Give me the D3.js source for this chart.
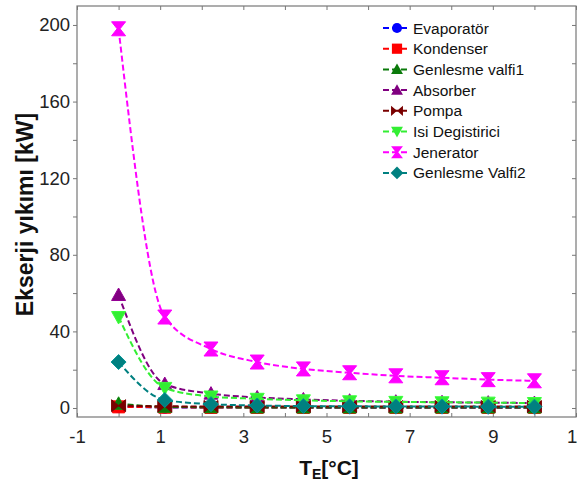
<!DOCTYPE html>
<html><head><meta charset="utf-8">
<script src="https://cdn.jsdelivr.net/npm/d3@7"></script>
<style>html,body{margin:0;padding:0;background:#fff;overflow:hidden}</style>
</head><body>
<script>
const xValues = [0, 1.111, 2.222, 3.333, 4.444, 5.556, 6.667, 7.778, 8.889, 10];
const seriesNames = ["Evaporatör","Kondenser","Genlesme valfi1","Absorber","Pompa","Isi Degistirici","Jenerator","Genlesme Valfi2"];
const evaporator = [0.8, 0.3, 0.2, 0.2, 0.2, 0.1, 0.1, 0.1, 0.1, 0.1];
const kondenser  = [0.6, 0.4, 0.3, 0.3, 0.3, 0.3, 0.3, 0.3, 0.3, 0.3];
const valfi1     = [2.2, 0.6, 0.4, 0.3, 0.3, 0.3, 0.3, 0.3, 0.3, 0.3];
const absorber   = [59, 12.5, 7.5, 5.5, 4.5, 3.8, 3.3, 3.0, 2.8, 2.6];
const pompa      = [1.2, 0.9, 0.8, 0.8, 0.8, 0.8, 0.8, 0.8, 0.8, 0.8];
const isiDeg     = [47.5, 10.5, 6, 4.8, 4.0, 3.5, 3.2, 3.0, 2.8, 2.6];
const jenerator  = [198, 47.5, 30.8, 24, 20.4, 18.4, 16.8, 15.8, 14.8, 14.2];
const valfi2     = [24, 4.2, 2.0, 1.3, 1.0, 0.9, 0.8, 0.8, 0.7, 0.7];
const xTickLabels = [-1, 1, 3, 5, 7, 9, 11];
const yTickLabels = [0, 40, 80, 120, 160, 200];

const seriesValues = [evaporator, kondenser, valfi1, absorber, pompa, isiDeg, jenerator, valfi2];
const colors = ["#0000ff","#ff0000","#0a7a0a","#800080","#7a0000","#33ee33","#ff00ff","#008080"];
const shapes = ["circle","square","tri","tri","bowtie","tridown","hourglass","diamond"];

const W = 577, H = 487;
const svg = d3.select("body").append("svg").attr("width", W).attr("height", H)
  .style("font-family", "'Liberation Sans', Arial, sans-serif");

const x = d3.scaleLinear().domain([-1, 11]).range([77, 576]);
const y = d3.scaleLinear().domain([-4.7, 209.9]).range([417, 6]);

// frame
svg.append("rect").attr("x", 77).attr("y", 6).attr("width", 499).attr("height", 411)
  .attr("fill", "none").attr("stroke", "#777").attr("stroke-width", 1.2);

// axes
const xAxis = d3.axisBottom(x).tickValues(d3.range(-1, 12, 1)).tickSizeInner(-4).tickSizeOuter(0)
  .tickFormat(d => xTickLabels.includes(d) ? d : "");
const gx = svg.append("g").attr("transform", "translate(0,417)").call(xAxis);
gx.select(".domain").remove();
gx.selectAll(".tick line").attr("stroke", "#777");
gx.selectAll("text").attr("font-size", 18.5).attr("fill", "#222").attr("dy", "1.25em");

const xTop = d3.axisTop(x).tickValues(d3.range(-1, 12, 1)).tickSizeInner(-4).tickSizeOuter(0).tickFormat("");
const gxt = svg.append("g").attr("transform", "translate(0,6)").call(xTop);
gxt.select(".domain").remove();
gxt.selectAll(".tick line").attr("stroke", "#777");

const yAxis = d3.axisLeft(y).tickValues(d3.range(0, 201, 20)).tickSize(4).tickPadding(3)
  .tickFormat(d => yTickLabels.includes(d) ? d : "");
const gy = svg.append("g").attr("transform", "translate(77,0)").call(yAxis);
gy.select(".domain").remove();
gy.selectAll(".tick line").attr("stroke", "#777");
gy.selectAll("text").attr("font-size", 18.5).attr("fill", "#222");

const yRight = d3.axisRight(y).tickValues(d3.range(0, 201, 20)).tickSize(-4).tickFormat("");
const gyr = svg.append("g").attr("transform", "translate(576,0)").call(yRight);
gyr.select(".domain").remove();
gyr.selectAll(".tick line").attr("stroke", "#777");

// titles
svg.append("text").attr("transform", "translate(33,214.5) rotate(-90)").attr("text-anchor", "middle")
  .attr("font-size", 23).attr("font-weight", "bold").attr("fill", "#111").text("Ekserji yıkımı [kW]");
const xt = svg.append("text").attr("x", 329).attr("y", 475).attr("text-anchor", "middle")
  .attr("font-size", 21).attr("font-weight", "bold").attr("fill", "#111");
xt.append("tspan").text("T");
xt.append("tspan").attr("font-size", 14).attr("dy", 4).text("E");
xt.append("tspan").attr("dy", -4).text("[°C]");

function markerPath(shape) {
  switch (shape) {
    case "circle": return d3.symbol(d3.symbolCircle, 110)();
    case "square": return "M-6,-6H6V6H-6Z";
    case "tri": return "M0,-7L7,5.5L-7,5.5Z";
    case "tridown": return "M0,7L7,-5.5L-7,-5.5Z";
    case "bowtie": return "M-7,-6L0,0L-7,6Z M7,-6L0,0L7,6Z";
    case "hourglass": return "M-7,-7L7,-7L1.5,0L7,7L-7,7L-1.5,0Z";
    case "diamond": return "M0,-7.5L7.5,0L0,7.5L-7.5,0Z";
  }
}
function markerStroke(shape, c) {
  return shape === "bowtie" ? c : d3.color(c).brighter(0.4);
}

const line = d3.line().x(d => x(d[0])).y(d => y(d[1])).curve(d3.curveMonotoneX);
const plot = svg.append("g");
seriesValues.forEach((vals, i) => {
  const pts = xValues.map((xv, j) => [xv, vals[j]]);
  plot.append("path").attr("d", line(pts)).attr("fill", "none").attr("stroke", colors[i])
    .attr("stroke-width", 2).attr("stroke-dasharray", "6,3");
  plot.selectAll(null).data(pts).enter().append("path")
    .attr("d", markerPath(shapes[i]))
    .attr("transform", d => `translate(${x(d[0])},${y(d[1])})`)
    .attr("fill", colors[i]).attr("stroke", markerStroke(shapes[i], colors[i])).attr("stroke-width", 1);
});

// legend
const lg = svg.append("g");
seriesNames.forEach((name, i) => {
  const ly = 28 + i * 20.7;
  lg.append("line").attr("x1", 383).attr("x2", 410).attr("y1", ly).attr("y2", ly)
    .attr("stroke", colors[i]).attr("stroke-width", 2).attr("stroke-dasharray", "6,3");
  lg.append("path").attr("d", markerPath(shapes[i])).attr("transform", `translate(397,${ly}) scale(0.85)`)
    .attr("fill", colors[i]);
  lg.append("text").attr("x", 413).attr("y", ly).attr("dy", "0.36em").attr("font-size", 15.5)
    .attr("fill", "#111").text(name);
});
</script>
</body></html>
